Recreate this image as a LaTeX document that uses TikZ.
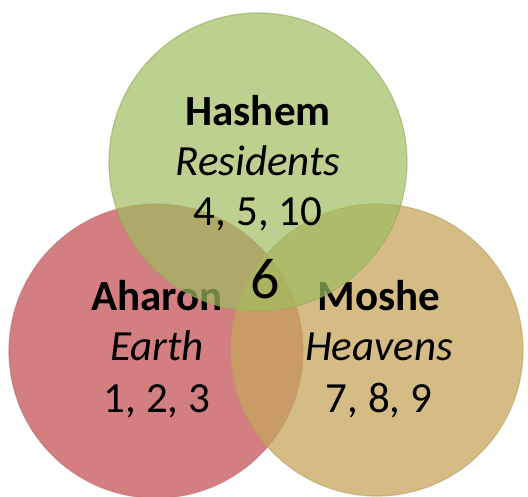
\documentclass[tikz,border=0pt]{standalone}
\usepackage{fontspec}
\setmainfont{Carlito}
\begin{document}
\begin{tikzpicture}[x=1pt,y=-1pt,
  venn/.style={circle, inner sep=0pt, line width=1.2pt},
  lbl/.style={align=center, inner sep=0pt, font=\fontsize{43}{50}\selectfont, text=black},
  big/.style={inner sep=0pt, font=\fontsize{58}{60}\selectfont, text=black}]
\definecolor{cred}{RGB}{211,127,130}
\definecolor{credrim}{RGB}{190,110,112}
\definecolor{ctan}{RGB}{199,166,92}
\definecolor{ctanrim}{RGB}{190,160,95}
\definecolor{cgreen}{RGB}{159,188,95}
\definecolor{cgreenrim}{RGB}{150,170,90}
\useasboundingbox (0,0) rectangle (528,496);
% left (red) circle
\node[venn, minimum size=294pt, fill=cred, draw=credrim, draw opacity=0.6] (aharonC) at (156,351) {};
% right (tan) circle
\node[venn, minimum size=292pt, fill=ctan, fill opacity=0.75, draw=ctanrim, draw opacity=0.6] (mosheC) at (377,350) {};
% lower labels
\node[lbl, anchor=base] (aharon) at (157,310) {\textbf{Aharon}};
\node[lbl, anchor=base] (earth) at (157,360) {\textit{Earth}};
\node[lbl, anchor=base] (n123) at (157,412) {1, 2, 3};
\node[lbl, anchor=base] (moshe) at (379,310) {\textbf{Moshe}};
\node[lbl, anchor=base] (heavens) at (379,360) {\textit{Heavens}};
\node[lbl, anchor=base] (n789) at (379,412) {7, 8, 9};
% top (green) circle
\node[venn, minimum size=298pt, fill=cgreen, fill opacity=0.7, draw=cgreenrim, draw opacity=0.6] (hashemC) at (258,162) {};
% top labels
\node[lbl, anchor=base] (hashem) at (258,125) {\textbf{Hashem}};
\node[lbl, anchor=base] (residents) at (258,175) {\textit{Residents}};
\node[lbl, anchor=base] (n4510) at (258,225) {4, 5, 10};
\node[big, anchor=base] (six) at (265,298) {6};
\end{tikzpicture}
\end{document}
